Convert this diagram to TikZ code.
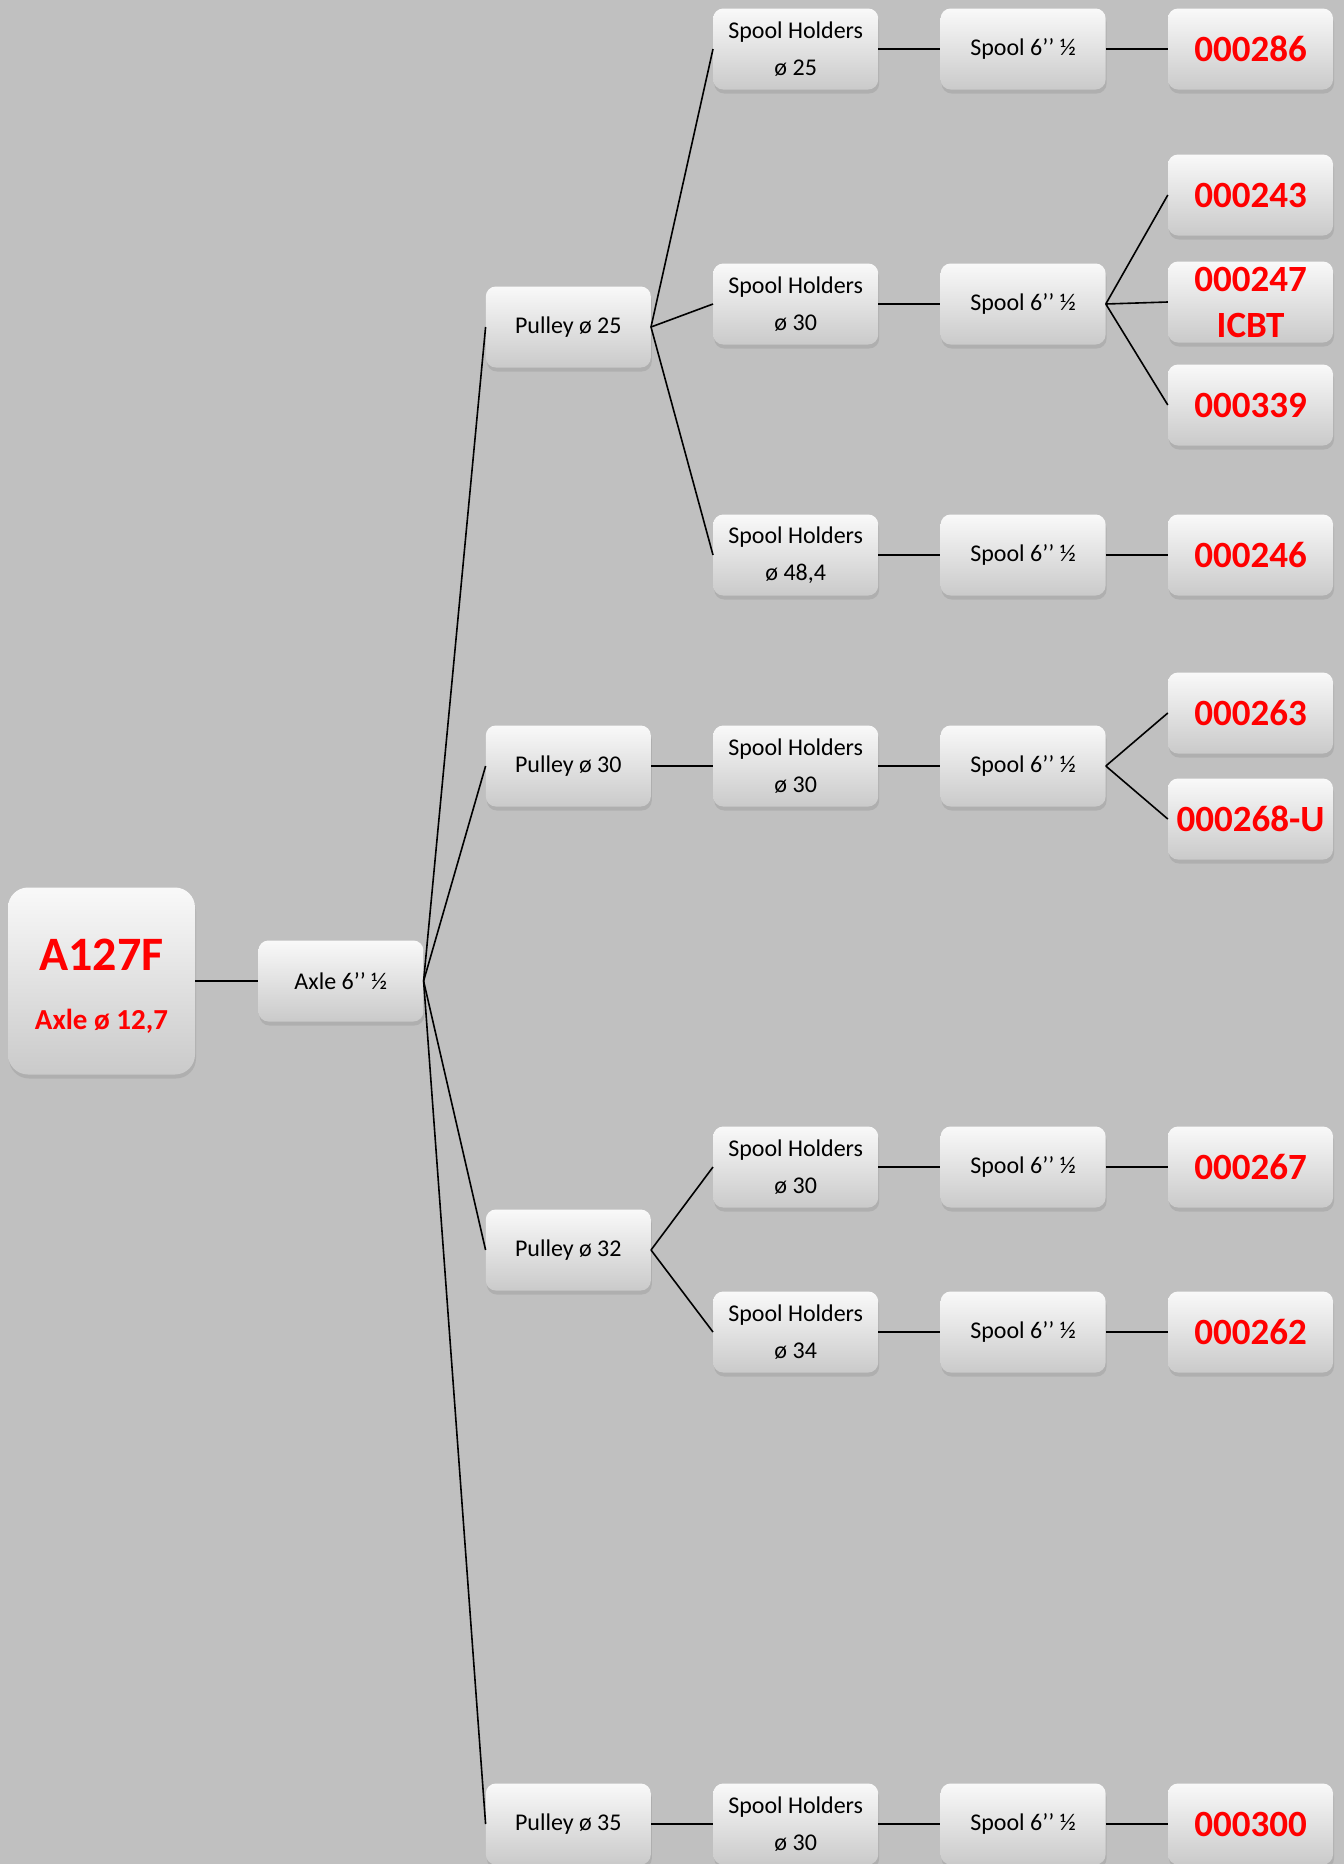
\documentclass[tikz,border=0pt]{standalone}
\usepackage{fontspec}
\setmainfont{Carlito}
\usetikzlibrary{positioning,shadows}
\definecolor{bggray}{RGB}{192,192,192}
\definecolor{boxtop}{RGB}{249,249,249}
\definecolor{boxbottom}{RGB}{202,202,202}

\begin{document}
\begin{tikzpicture}[x=1pt,y=1pt,
	box/.style={shape=rectangle, rounded corners=10pt, minimum width=165pt, minimum height=81pt, inner sep=0pt, align=center, top color=boxtop, bottom color=boxbottom, drop shadow={shadow xshift=1pt, shadow yshift=-4pt, opacity=0.25}, font=\fontsize{24}{37}\selectfont},
	partno/.style={box, text=red, font=\fontsize{37}{46}\selectfont\bfseries},
	link/.style={line width=1.6pt}]
	\useasboundingbox[fill=bggray] (0,0) rectangle (1344,-1864);

	% create the nodes
	\node (root) [box, minimum width=187pt, minimum height=187pt, rounded corners=20pt, text=red, font=\fontsize{29}{59}\selectfont\bfseries] at (101.5,-981) {{\fontsize{48}{59}\selectfont\rule{0pt}{41pt}A127F}\\Axle ø 12,7};
	\node (axle) [box, right = 63pt of root] {Axle 6’’ ½};

	\node (p25) [box, right = 62pt of axle, yshift=654pt] {Pulley ø 25};
	\node (p30) [box, right = 62pt of axle, yshift=215pt] {Pulley ø 30};
	\node (p32) [box, right = 62pt of axle, yshift=-269pt] {Pulley ø 32};
	\node (p35) [box, right = 62pt of axle, yshift=-843pt] {Pulley ø 35};

	\node (sh25) [box, right = 62pt of p25, yshift=278pt] {Spool Holders\\ø 25};
	\node (sh30a) [box, right = 62pt of p25, yshift=23pt] {Spool Holders\\ø 30};
	\node (sh48) [box, right = 62pt of p25, yshift=-228pt] {Spool Holders\\ø 48,4};
	\node (sh30b) [box, right = 62pt of p30] {Spool Holders\\ø 30};
	\node (sh30c) [box, right = 62pt of p32, yshift=83pt] {Spool Holders\\ø 30};
	\node (sh34) [box, right = 62pt of p32, yshift=-82pt] {Spool Holders\\ø 34};
	\node (sh30d) [box, right = 62pt of p35] {Spool Holders\\ø 30};

	\node (sp25) [box, right = 62pt of sh25] {Spool 6’’ ½};
	\node (sp30a) [box, right = 62pt of sh30a] {Spool 6’’ ½};
	\node (sp48) [box, right = 62pt of sh48] {Spool 6’’ ½};
	\node (sp30b) [box, right = 62pt of sh30b] {Spool 6’’ ½};
	\node (sp30c) [box, right = 62pt of sh30c] {Spool 6’’ ½};
	\node (sp34) [box, right = 62pt of sh34] {Spool 6’’ ½};
	\node (sp30d) [box, right = 62pt of sh30d] {Spool 6’’ ½};

	\node (n286) [partno, right = 62pt of sp25] {000286};
	\node (n243) [partno, right = 62pt of sp30a, yshift=109pt] {000243};
	\node (n247) [partno, right = 62pt of sp30a, yshift=2pt] {000247\\ICBT};
	\node (n339) [partno, right = 62pt of sp30a, yshift=-101pt] {000339};
	\node (n246) [partno, right = 62pt of sp48] {000246};
	\node (n263) [partno, right = 62pt of sp30b, yshift=53pt] {000263};
	\node (n268) [partno, right = 62pt of sp30b, yshift=-53pt] {000268-U};
	\node (n267) [partno, right = 62pt of sp30c] {000267};
	\node (n262) [partno, right = 62pt of sp34] {000262};
	\node (n300) [partno, right = 62pt of sp30d] {000300};

	% connect the nodes
	\draw[link] (root) -- (axle);
	\foreach \p in {p25,p30,p32,p35}
		\draw[link] (axle.east) -- (\p.west);
	\foreach \a/\b in {p25/sh25,p25/sh30a,p25/sh48,p30/sh30b,p32/sh30c,p32/sh34,p35/sh30d}
		\draw[link] (\a.east) -- (\b.west);
	\foreach \a/\b in {sh25/sp25,sh30a/sp30a,sh48/sp48,sh30b/sp30b,sh30c/sp30c,sh34/sp34,sh30d/sp30d}
		\draw[link] (\a) -- (\b);
	\foreach \a/\b in {sp25/n286,sp30a/n243,sp30a/n247,sp30a/n339,sp48/n246,sp30b/n263,sp30b/n268,sp30c/n267,sp34/n262,sp30d/n300}
		\draw[link] (\a.east) -- (\b.west);

\end{tikzpicture}
\end{document}
